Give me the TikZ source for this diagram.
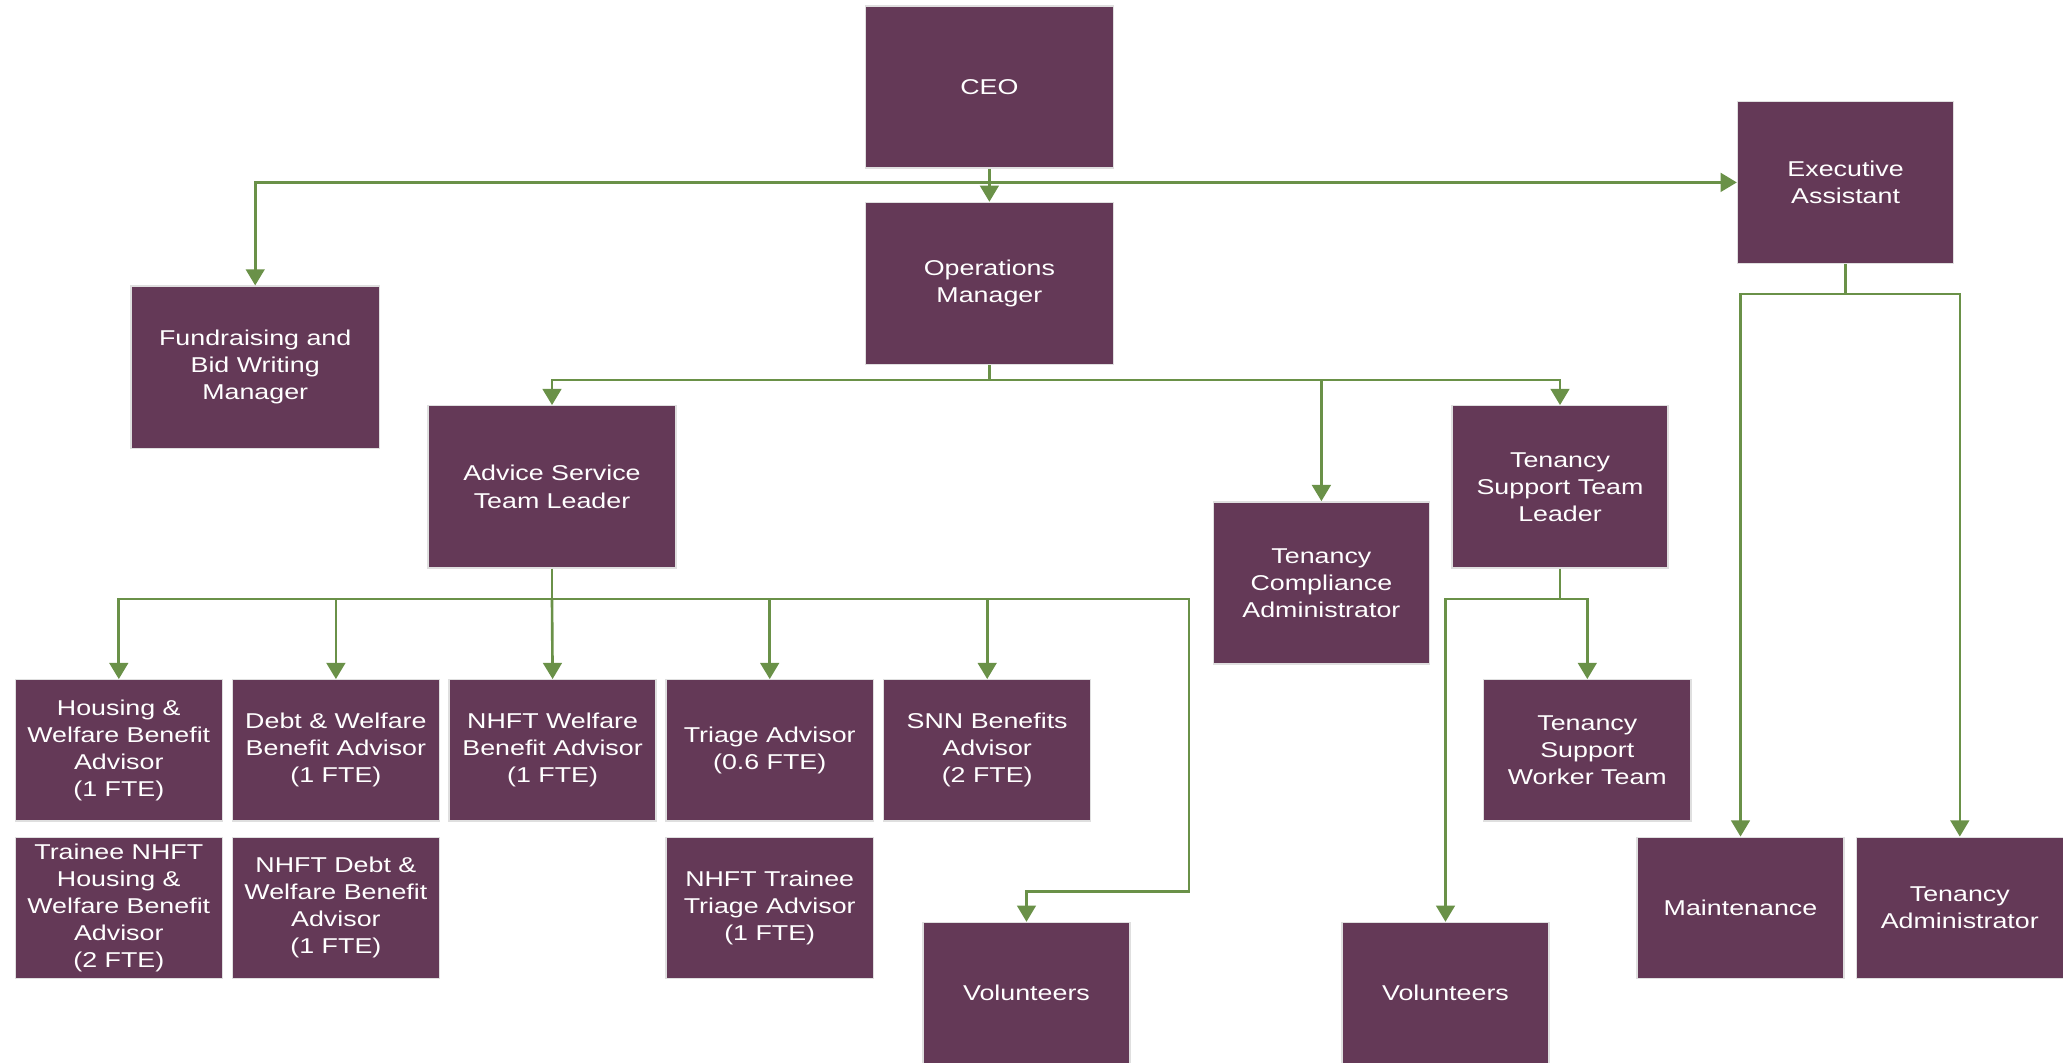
\documentclass[tikz,border=0pt]{standalone}
\usepackage{fontspec}
\setmainfont{Liberation Sans}[FakeStretch=1.25]
\usetikzlibrary{arrows.meta}
\definecolor{boxpurple}{HTML}{643957}
\definecolor{linegreen}{HTML}{6A9148}
\begin{document}
\begin{tikzpicture}[x=0.01cm,y=-0.01cm,
  box/.style={rectangle, fill=boxpurple, draw=gray!25, line width=0.4pt, inner sep=0pt,
    text=white, align=center, font=\fontsize{6.1pt}{7.7pt}\selectfont},
  bigbox/.style={box, minimum width=2.48cm, minimum height=1.62cm},
  midbox/.style={box, minimum width=2.16cm, minimum height=1.62cm},
  smallbox/.style={box, minimum width=2.07cm, minimum height=1.41cm},
  conn/.style={draw=linegreen, line width=0.75pt},
  arr/.style={conn, -{Triangle[width=5.3pt,length=4.6pt]}}]
\useasboundingbox (0,0) rectangle (2063,1062);
\fill[white] (0,0) rectangle (2063,1062);

% top level
\node[bigbox] (ceo) at (989.4,87) {CEO};
\node[bigbox] (ops) at (989.4,283.5) {Operations\\Manager};
\node[midbox] (ea) at (1845.6,182.4) {Executive\\Assistant};
\node[bigbox] (fund) at (255.2,367.2) {Fundraising and\\Bid Writing\\Manager};
\node[bigbox] (adv) at (552,486.8) {Advice Service\\Team Leader};
\node[midbox] (tca) at (1321.4,582.9) {Tenancy\\Compliance\\Administrator};
\node[midbox] (tstl) at (1560,486.8) {Tenancy\\Support Team\\Leader};

% advice row 1
\node[smallbox] (hw) at (118.8,750.3) {Housing \&\\Welfare Benefit\\Advisor\\(1 FTE)};
\node[smallbox] (dw) at (335.9,750.3) {Debt \& Welfare\\Benefit Advisor\\(1 FTE)};
\node[smallbox] (nw) at (552.6,750.3) {NHFT Welfare\\Benefit Advisor\\(1 FTE)};
\node[smallbox] (tr) at (769.7,750.3) {Triage Advisor\\(0.6 FTE)};
\node[smallbox] (snn) at (987.2,750.3) {SNN Benefits\\Advisor\\(2 FTE)};
% advice row 2
\node[smallbox] (thw) at (118.8,907.8) {Trainee NHFT\\Housing \&\\Welfare Benefit\\Advisor\\(2 FTE)};
\node[smallbox] (ndw) at (335.9,907.8) {NHFT Debt \&\\Welfare Benefit\\Advisor\\(1 FTE)};
\node[smallbox] (ntr) at (769.7,907.8) {NHFT Trainee\\Triage Advisor\\(1 FTE)};
\node[smallbox] (vol1) at (1026.5,993) {Volunteers};

% tenancy support
\node[smallbox] (tswt) at (1587.3,750.3) {Tenancy\\Support\\Worker Team};
\node[smallbox] (vol2) at (1445.5,993) {Volunteers};

% EA reports
\node[smallbox] (maint) at (1740.5,907.8) {Maintenance};
\node[smallbox] (tadm) at (1959.8,907.8) {Tenancy\\Administrator};

% connectors from CEO
\coordinate (cb) at (989.4,182.4);
\draw[arr] (ceo.south) -- (ops.north);
\draw[arr] (cb) -| (fund.north);
\draw[arr] (cb) -- (ea.west);

% from EA
\coordinate (eb) at (1845.6,293.9);
\draw[conn] (ea.south) -- (eb);
\draw[arr] (eb) -| (maint.north);
\draw[arr] (eb) -| (tadm.north);

% from Operations Manager
\coordinate (ob) at (989.4,380);
\draw[conn] (ops.south) -- (ob);
\draw[arr] (ob) -| (adv.north);
\draw[arr] (ob) -| (tca.north);
\draw[arr] (ob) -| (tstl.north);

% from Advice Service Team Leader
\coordinate (ab) at (552,599);
\coordinate (av1) at (1189,599);
\coordinate (av2) at (1189,891.7);
\draw[conn] (adv.south) -- (ab);
\draw[arr] (ab) -| (hw.north);
\draw[arr] (ab) -| (dw.north);
\draw[arr] (ab) -- (nw.north);
\draw[arr] (ab) -| (tr.north);
\draw[arr] (ab) -| (snn.north);
\draw[arr] (ab) -- (av1) -- (av2) -| (vol1.north);

% from Tenancy Support Team Leader
\coordinate (tb) at (1560,599);
\draw[conn] (tstl.south) -- (tb);
\draw[arr] (tb) -| (tswt.north);
\draw[arr] (tb) -| (vol2.north);
\end{tikzpicture}
\end{document}
